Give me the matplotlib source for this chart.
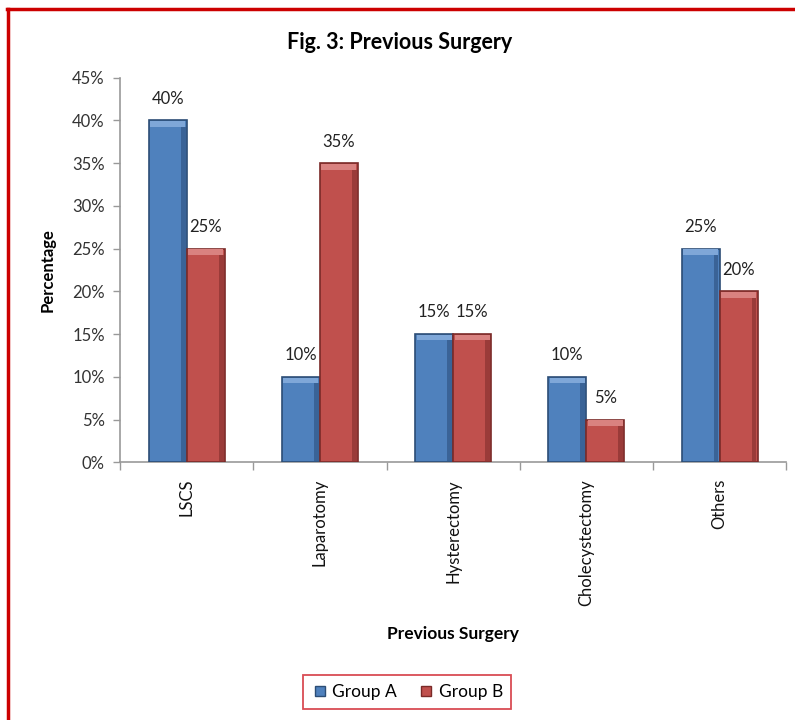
import numpy as np
import matplotlib.pyplot as plt
from matplotlib.patches import Rectangle
from matplotlib.lines import Line2D

categories = ['LSCS', 'Laparotomy', 'Hysterectomy', 'Cholecystectomy', 'Others']
group_a = [40, 10, 15, 10, 25]
group_b = [25, 35, 15, 5, 20]
series_names = ['Group A', 'Group B']
yticks = [0, 5, 10, 15, 20, 25, 30, 35, 40, 45]

plt.rcParams['font.family'] = ['Lato', 'DejaVu Sans']

blue, blue_edge, blue_top, blue_side = '#4F81BD', '#2C4D75', '#7FA7D8', '#3A6397'
red, red_edge, red_top, red_side = '#C0504D', '#7A2A28', '#D98280', '#9A3B39'


def draw_bars(ax, xs, vals, width, face, edge, top, side):
    bars = ax.bar(xs, vals, width, color=face, edgecolor=edge, linewidth=1.2, zorder=3)
    for b, v in zip(bars, vals):
        x0 = b.get_x()
        # bevel: lighter cap on top, darker strip down the right side
        ax.add_patch(Rectangle((x0 + width * 0.04, v - 0.75), width * 0.92, 0.65,
                               facecolor=top, edgecolor='none', zorder=4))
        ax.add_patch(Rectangle((x0 + width * 0.84, 0.1), width * 0.13, v - 0.85,
                               facecolor=side, edgecolor='none', zorder=4))
        ax.text(x0 + width / 2, v + 1.6, f'{v}%', ha='center', va='bottom',
                fontsize=12, color='#222222', zorder=5)
    return bars


fig = plt.figure(figsize=(7.95, 7.2), dpi=100)
ax = fig.add_axes([0.151, 0.358, 0.838, 0.534])

x = np.arange(len(categories))
w = 0.285
draw_bars(ax, x - w / 2, group_a, w, blue, blue_edge, blue_top, blue_side)
draw_bars(ax, x + w / 2, group_b, w, red, red_edge, red_top, red_side)

ax.set_xlim(-0.5, len(categories) - 0.5)
ax.set_ylim(0, 45)
ax.set_yticks(yticks)
ax.set_yticklabels([f'{t}%' for t in yticks], fontsize=12, color='#333333')
ax.set_xticks(x)
ax.set_xticklabels(categories, rotation=90, fontsize=12, color='#111111', va='top')
ax.tick_params(axis='x', length=0, pad=12)
ax.tick_params(axis='y', length=5, color='#999999', width=1, pad=6)

# category boundary ticks below the axis
ax.set_xticks(np.arange(len(categories) + 1) - 0.5, minor=True)
ax.tick_params(axis='x', which='minor', length=6, color='#999999', width=1)

for s in ['top', 'right']:
    ax.spines[s].set_visible(False)
for s in ['left', 'bottom']:
    ax.spines[s].set_color('#999999')
    ax.spines[s].set_linewidth(1.2)

ax.set_ylabel('Percentage', fontsize=12, fontweight='bold', labelpad=12)
fig.text(0.57, 0.113, 'Previous Surgery', ha='center', fontsize=12.5, fontweight='bold')
fig.text(0.503, 0.932, 'Fig. 3: Previous Surgery', ha='center', fontsize=15.5, fontweight='bold')

handles = [Line2D([], [], marker='s', ls='none', markersize=7, markerfacecolor=blue,
                  markeredgecolor=blue_edge),
           Line2D([], [], marker='s', ls='none', markersize=7, markerfacecolor=red,
                  markeredgecolor=red_edge)]
leg = fig.legend(handles, series_names, loc='center', bbox_to_anchor=(0.512, 0.039),
                 ncol=2, fontsize=12.5, frameon=True, fancybox=False,
                 handletextpad=0.2, columnspacing=1.2, borderpad=0.5, handlelength=1.0)
leg.get_frame().set_edgecolor('#D0202A')
leg.get_frame().set_linewidth(1.3)

# red frame along top and left of the figure
fig.add_artist(Line2D([0.009, 1.0], [0.9875, 0.9875], color='#CC0000', lw=2.5,
                      transform=fig.transFigure))
fig.add_artist(Line2D([0.0095, 0.0095], [0.0, 0.9875], color='#CC0000', lw=2.5,
                      transform=fig.transFigure))

fig.savefig('out.png', dpi=100)
